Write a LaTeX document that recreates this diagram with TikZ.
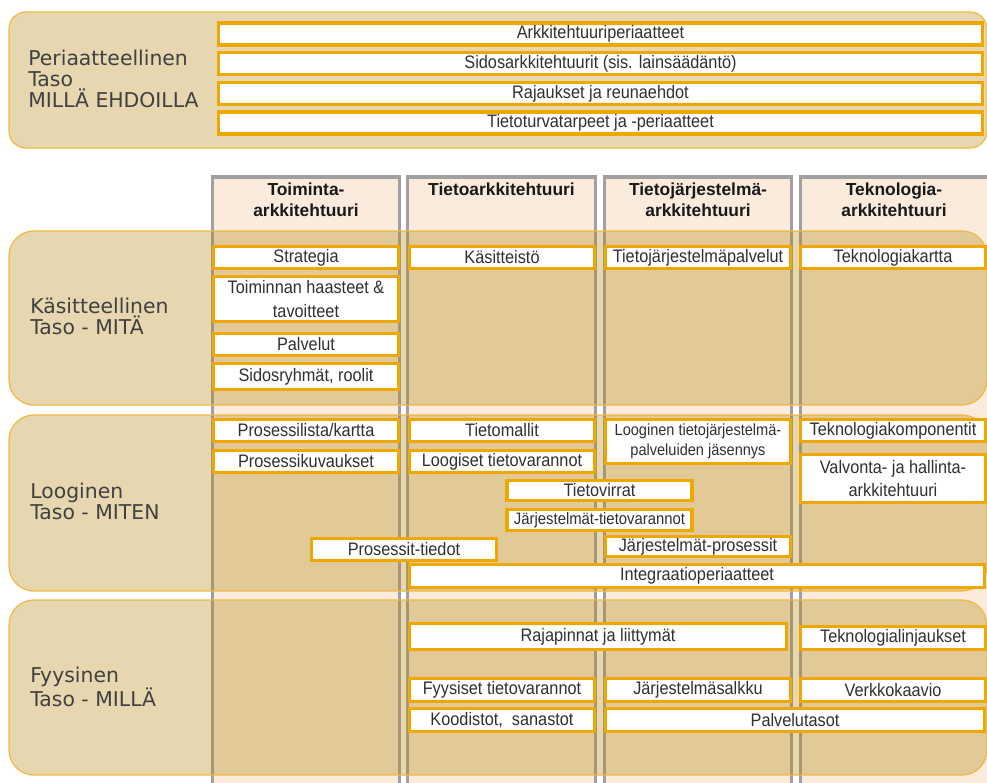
\documentclass[tikz,border=0pt]{standalone}
\usepackage{fontspec}
\setmainfont{Liberation Sans}
\newfontfamily\tasofont{DejaVu Sans}
\newfontfamily\boksifont{Liberation Sans}[FakeStretch=0.9]
\usepackage{xcolor}
\definecolor{laatikkoreuna}{RGB}{240,168,0}
\definecolor{tasoreuna}{RGB}{242,184,64}
\definecolor{tasotaytto}{RGB}{179,134,15}
\definecolor{sarakereuna}{RGB}{160,160,160}
\definecolor{saraketaytto}{RGB}{250,235,220}
\definecolor{tekstiharmaa}{RGB}{48,48,48}
\definecolor{nimiharmaa}{RGB}{64,64,64}
\tikzset{
  tasoband/.style={draw=tasoreuna, line width=0.7pt, fill=tasotaytto, fill opacity=0.33, rounded corners=0.5cm},
  sarake/.style={draw=sarakereuna, line width=1.8pt, fill=saraketaytto},
  otsikko/.style={anchor=north, align=center, inner sep=0pt, text=black!90, font=\bfseries\fontsize{9.9}{11.9}\selectfont},
  tasolabel/.style={anchor=west, align=left, inner sep=0pt, text=nimiharmaa, font=\tasofont\fontsize{11.6}{11.9}\selectfont},
  itembox/.style={rectangle, draw=laatikkoreuna, line width=1.8pt, fill=white, inner sep=0pt, align=center, text=tekstiharmaa, minimum height=0.44cm, font=\boksifont\fontsize{10.3}{13.5}\selectfont},
  yksi/.style={minimum width=3.7cm},
  ylarivi/.style={minimum width=15.28cm},
}

\begin{document}
\begin{tikzpicture}[x=0.02cm, y=-0.02cm]
  \useasboundingbox (0,0) rectangle (987,782);
  \clip (0,0) rectangle (987,782);

  % Sarakkeet
  \draw[sarake] (212.5,177) rectangle (399.5,800);
  \draw[sarake] (407.5,177) rectangle (595.5,800);
  \draw[sarake] (604.5,177) rectangle (791.5,800);
  \draw[sarake] (800.5,177) rectangle (995,800);
  \node[otsikko] (h1) at (306,183) {Toiminta-\\arkkitehtuuri};
  \node[otsikko] (h2) at (501.5,183) {Tietoarkkitehtuuri};
  \node[otsikko] (h3) at (698,183) {Tietojärjestelmä-\\arkkitehtuuri};
  \node[otsikko] (h4) at (894,183) {Teknologia-\\arkkitehtuuri};

  % Tasot
  \draw[tasoband, rounded corners=0.34cm] (9,12) rectangle (987,148);
  \draw[tasoband] (9,231) rectangle (987,405);
  \draw[tasoband] (9,415) rectangle (987,591);
  \draw[tasoband] (9,600) rectangle (987,775);

  \node[tasolabel] (periaate) at (28,79) {Periaatteellinen\\Taso\\MILLÄ EHDOILLA};
  \node[tasolabel] (kasite) at (30,316) {Käsitteellinen\\Taso - MITÄ};
  \node[tasolabel] (looginen) at (30,501) {Looginen\\Taso - MITEN};
  \node[tasolabel] (fyysinen) at (30,687) {Fyysinen\\Taso - MILLÄ};

  % Periaatteellinen taso
  \node[itembox, ylarivi] (arkper) at (600.5,34) {Arkkitehtuuriperiaatteet};
  \node[itembox, ylarivi] (sidos) at (600.5,63.5) {Sidosarkkitehtuurit (sis. lainsäädäntö)};
  \node[itembox, ylarivi] (rajaus) at (600.5,93.5) {Rajaukset ja reunaehdot};
  \node[itembox, ylarivi] (turva) at (600.5,123) {Tietoturvatarpeet ja -periaatteet};

  % Käsitteellinen taso
  \node[itembox, yksi] (strategia) at (306,257.5) {Strategia};
  \node[itembox, yksi, minimum height=0.9cm] (haasteet) at (306,299) {Toiminnan haasteet \&\\tavoitteet};
  \node[itembox, yksi] (palvelut) at (306,344.5) {Palvelut};
  \node[itembox, yksi, minimum height=0.52cm] (sidosryhmat) at (306,376.5) {Sidosryhmät, roolit};
  \node[itembox, yksi] (kasitteisto) at (502,257.5) {Käsitteistö};
  \node[itembox, yksi] (tjpalvelut) at (698,257.5) {Tietojärjestelmäpalvelut};
  \node[itembox, yksi] (tkartta) at (893,257.5) {Teknologiakartta};

  % Looginen taso
  \node[itembox, yksi] (proslista) at (306,430.5) {Prosessilista/kartta};
  \node[itembox, yksi] (proskuv) at (306,461.5) {Prosessikuvaukset};
  \node[itembox, yksi] (tietomallit) at (502,430.5) {Tietomallit};
  \node[itembox, yksi] (loogisettv) at (502,461.5) {Loogiset tietovarannot};
  \node[itembox, yksi, minimum height=0.88cm, font=\boksifont\fontsize{9.2}{11.3}\selectfont] (looginentj) at (698,441.5) {Looginen tietojärjestelmä-\\palveluiden jäsennys};
  \node[itembox, yksi] (tkomp) at (893,430.5) {Teknologiakomponentit};
  \node[itembox, yksi, minimum height=0.96cm] (valvonta) at (893,478.5) {Valvonta- ja hallinta-\\arkkitehtuuri};
  \node[itembox, yksi, minimum height=0.4cm] (tietovirrat) at (599.5,490.5) {Tietovirrat};
  \node[itembox, yksi, minimum height=0.42cm, font=\boksifont\fontsize{9.4}{11.3}\selectfont] (jarjtv) at (599.5,520) {Järjestelmät-tietovarannot};
  \node[itembox, yksi] (prostiedot) at (404,549.5) {Prosessit-tiedot};
  \node[itembox, yksi, minimum height=0.4cm] (jarjpros) at (698,546.5) {Järjestelmät-prosessit};
  \node[itembox, minimum width=11.5cm, minimum height=0.46cm] (integraatio) at (697,576) {Integraatioperiaatteet};

  % Fyysinen taso
  \node[itembox, minimum width=7.54cm, minimum height=0.52cm] (rajapinnat) at (598,636.5) {Rajapinnat ja liittymät};
  \node[itembox, yksi, minimum height=0.46cm] (tlinjaus) at (893,638) {Teknologialinjaukset};
  \node[itembox, yksi, minimum height=0.46cm] (fyysisettv) at (502,690) {Fyysiset tietovarannot};
  \node[itembox, yksi, minimum height=0.46cm] (jarjsalkku) at (698,690) {Järjestelmäsalkku};
  \node[itembox, yksi, minimum height=0.46cm] (verkko) at (893,690) {Verkkokaavio};
  \node[itembox, yksi, minimum height=0.46cm] (koodistot) at (502,720) {Koodistot,\ \ sanastot};
  \node[itembox, minimum width=7.58cm, minimum height=0.46cm] (palvelutasot) at (795,720) {Palvelutasot};
\end{tikzpicture}
\end{document}
